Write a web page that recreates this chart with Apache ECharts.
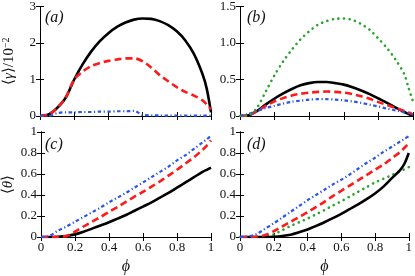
<!DOCTYPE html>
<html><head><meta charset="utf-8">
<script src="https://cdn.jsdelivr.net/npm/echarts@6/dist/echarts.min.js"></script>
<style>html,body{margin:0;padding:0;background:#fff}#c{width:415px;height:276px}</style>
</head><body><div id="c"></div>
<script>
const PHI = [0,0.05,0.1,0.15,0.2,0.25,0.3,0.35,0.4,0.45,0.5,0.55,0.6,0.65,0.7,0.75,0.8,0.85,0.9,0.95,0.975,1];
const X_TICKS = [0,0.2,0.4,0.6,0.8,1];
// panel (a)  <gamma>/10^-2
const A_BLK = [0,0.04,0.22,0.5,1.0,1.42,1.77,2.05,2.27,2.44,2.56,2.64,2.67,2.66,2.6,2.49,2.32,2.07,1.7,1.15,0.75,0.1];
const A_RED = [0,0.04,0.22,0.5,1.0,1.22,1.37,1.45,1.51,1.55,1.58,1.58,1.5,1.33,1.12,0.95,0.79,0.66,0.56,0.43,0.32,0.18];
const A_BLU = [0,0.0,0.08,0.1,0.1,0.11,0.11,0.12,0.12,0.13,0.13,0.14,0.03,0.02,0.015,0.01,0.01,0.01,0.01,0.01,0.01,0.01];
// panel (b)
const B_BLK = [0,0.01,0.07,0.16,0.24,0.31,0.37,0.42,0.45,0.465,0.465,0.45,0.43,0.395,0.35,0.3,0.24,0.18,0.115,0.055,0.025,0];
const B_RED = [0,0.01,0.07,0.14,0.2,0.245,0.28,0.305,0.32,0.33,0.335,0.33,0.32,0.3,0.27,0.235,0.19,0.15,0.11,0.07,0.05,0.02];
const B_BLU = [0,0.03,0.07,0.11,0.14,0.17,0.195,0.21,0.225,0.23,0.23,0.225,0.215,0.2,0.18,0.155,0.13,0.1,0.075,0.05,0.035,0.02];
const B_GRN = [0,0.01,0.12,0.34,0.56,0.75,0.91,1.05,1.16,1.25,1.3,1.33,1.335,1.315,1.26,1.18,1.06,0.93,0.77,0.57,0.38,0.2];
// panel (c)  <theta>
const C_BLK = [0,0,0.003,0.01,0.025,0.05,0.08,0.11,0.14,0.175,0.21,0.25,0.29,0.33,0.375,0.42,0.47,0.52,0.57,0.62,0.64,0.66];
const C_RED = [0,0,0,0.01,0.05,0.1,0.145,0.19,0.24,0.285,0.335,0.385,0.43,0.48,0.53,0.585,0.64,0.7,0.76,0.83,0.87,0.92];
const C_BLU = [0,0.01,0.06,0.1,0.145,0.19,0.235,0.28,0.33,0.375,0.42,0.47,0.52,0.57,0.62,0.67,0.73,0.78,0.84,0.9,0.93,0.965];
// panel (d)
const D_BLK = [0,0,0,0,0.003,0.01,0.022,0.045,0.072,0.105,0.14,0.18,0.22,0.265,0.31,0.36,0.415,0.48,0.56,0.64,0.7,0.8];
const D_RED = [0,0,0.005,0.02,0.055,0.1,0.145,0.19,0.235,0.285,0.335,0.39,0.44,0.49,0.54,0.59,0.64,0.69,0.75,0.81,0.85,0.89];
const D_BLU = [0,0.005,0.03,0.08,0.13,0.185,0.24,0.295,0.35,0.4,0.45,0.5,0.545,0.595,0.65,0.705,0.755,0.81,0.86,0.91,0.935,0.96];
const D_GRN = [0,0,0,0.005,0.025,0.065,0.105,0.14,0.175,0.215,0.255,0.3,0.34,0.385,0.43,0.475,0.519,0.555,0.59,0.625,0.645,0.665];

const FONT = 'Liberation Serif';
const pair = ys => PHI.map((x,i)=>[x, ys[i]]);
const grids = [
  {left:38, top:5, width:173, height:111},
  {left:240, top:5, width:173, height:111},
  {left:38, top:132, width:173, height:113},
  {left:240, top:132, width:173, height:113}
];
const yCfg = [
  {max:3, interval:1, fmt: v => String(v)},
  {max:1.5, interval:0.5, fmt: v => v===0 ? '0' : v.toFixed(1)},
  {max:1, interval:0.2, fmt: v => String(+v.toFixed(1))},
  {max:1, interval:0.2, fmt: v => String(+v.toFixed(1))}
];
const lineC = {show:true, lineStyle:{color:'#000', width:1}};
const tickC = {show:true, inside:true, length:4, lineStyle:{color:'#000', width:1}};
const lblStyle = {fontFamily:FONT, fontSize:13, color:'#111'};
const xAxis = [], yAxis = [];
grids.forEach((g,i)=>{
  const bottomRow = i>=2;
  xAxis.push({type:'value', gridIndex:i, min:0, max:1, interval:0.2, position:'bottom',
    axisLine:lineC, axisTick:tickC, splitLine:{show:false},
    axisLabel: bottomRow ? Object.assign({show:true, margin:4, formatter: v => String(+v.toFixed(1))}, lblStyle) : {show:false},
    name: bottomRow ? 'ϕ' : '', nameLocation:'middle', nameGap:22,
    nameTextStyle:{fontFamily:FONT, fontSize:16, fontStyle:'italic', color:'#111'}});
  xAxis.push({type:'value', gridIndex:i, min:0, max:1, interval:0.2, position:'top',
    axisLine:lineC, axisTick:tickC, splitLine:{show:false}, axisLabel:{show:false}});
  const yc = yCfg[i];
  const yName = i===0 ? '{n|⟨}{i|γ}{n|⟩/10}{s|−2}' : (i===2 ? '{n|⟨}{i|θ}{n|⟩}' : '');
  yAxis.push({type:'value', gridIndex:i, min:0, max:yc.max, interval:yc.interval, position:'left',
    axisLine:lineC, axisTick:tickC, splitLine:{show:false},
    axisLabel: Object.assign({show:true, margin:4, formatter: yc.fmt}, lblStyle),
    name:yName, nameLocation:'middle', nameGap: i===0 ? 22 : 25,
    nameTextStyle:{fontFamily:FONT, fontSize:15, color:'#111',
      rich:{n:{fontFamily:FONT, fontSize:15, color:'#111'},
            i:{fontFamily:FONT, fontSize:15, fontStyle:'italic', color:'#111'},
            s:{fontFamily:FONT, fontSize:10, color:'#111', padding:[0,0,7,0]}}}});
  yAxis.push({type:'value', gridIndex:i, min:0, max:yc.max, interval:yc.interval, position:'right',
    axisLine:lineC, axisTick:tickC, splitLine:{show:false}, axisLabel:{show:false}});
});

const BLACK = {color:'#000', width:2.6, type:'solid'};
const RED = {color:'#ff1a1a', width:2.6, type:[7,4]};
const BLUE = {color:'#2a55f0', width:2.2, type:[3.5,2.5,1.2,2.5]};
const GREEN = {color:'#2aa52a', width:2.6, type:[0.1,5.5], cap:'round'};
function S(i, ys, style){
  return {type:'line', xAxisIndex:2*i, yAxisIndex:2*i, data:pair(ys), showSymbol:false,
    smooth:0.3, lineStyle:style, silent:true, animation:false};
}
const series = [
  S(0,A_BLK,BLACK), S(0,A_RED,RED), S(0,A_BLU,BLUE),
  S(1,B_BLK,BLACK), S(1,B_RED,RED), S(1,B_BLU,BLUE), S(1,B_GRN,GREEN),
  S(2,C_BLK,BLACK), S(2,C_RED,RED), S(2,C_BLU,BLUE),
  S(3,D_GRN,GREEN), S(3,D_BLK,BLACK), S(3,D_RED,RED), S(3,D_BLU,BLUE)
];
const labels = ['(a)','(b)','(c)','(d)'];
const graphic = grids.map((g,i)=>({type:'text', left:g.left+7, top:g.top+5,
  style:{text:labels[i], fontFamily:FONT, fontSize:16, fontStyle:'italic', fill:'#111'}}));

const chart = echarts.init(document.getElementById('c'), null, {renderer:'canvas'});
chart.setOption({animation:false, backgroundColor:'#fff', grid:grids, xAxis, yAxis, series, graphic});
</script></body></html>
